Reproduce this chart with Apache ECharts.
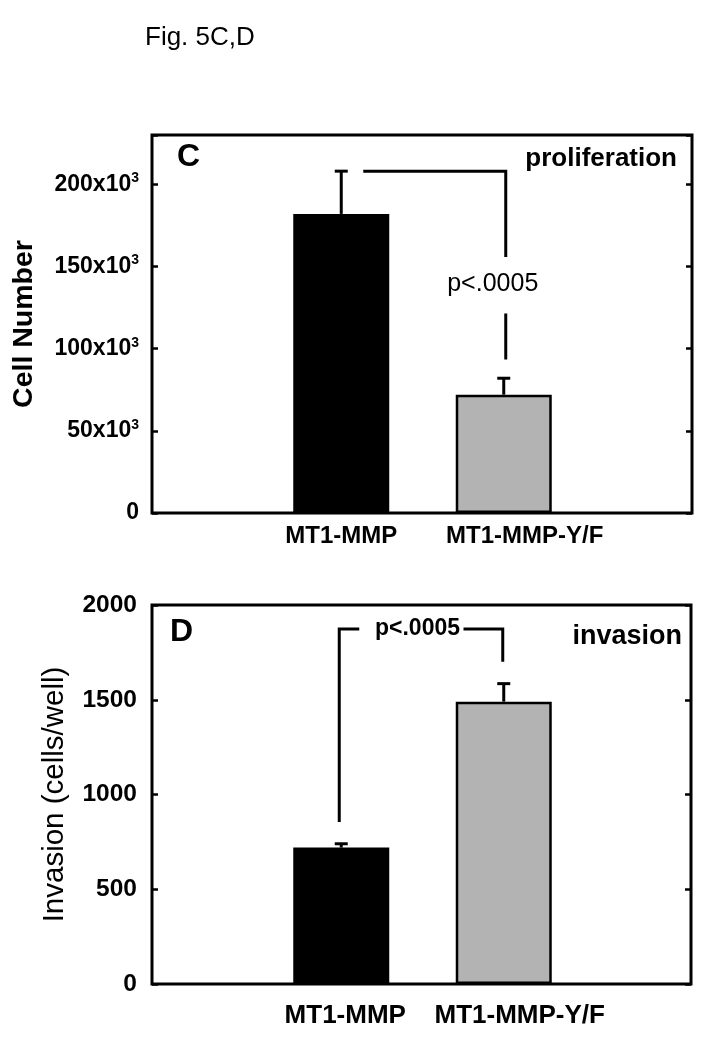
<!DOCTYPE html>
<html><head><meta charset="utf-8">
<script src="https://cdn.jsdelivr.net/npm/echarts@6/dist/echarts.min.js"></script>
<style>html,body{margin:0;padding:0;background:#fff}#c{width:719px;height:1050px}</style>
</head><body><div id="c"></div>
<script>
const categories = ['MT1-MMP', 'MT1-MMP-Y/F'];
const cellNumber = [182000, 72000];
const cellNumberErr = [26000, 10000];
const invasion = [720, 1490];
const invasionErr = [20, 95];
const cellTicks = [0, 50000, 100000, 150000, 200000];
const invasionTicks = [0, 500, 1000, 1500, 2000];
const barColors = ['#000000', '#b3b3b3'];
const pLabel = 'p<.0005';

const FONT = '"Liberation Sans", Arial, Helvetica, sans-serif';
const chart = echarts.init(document.getElementById('c'), null, {renderer: 'canvas'});

function errSeries(xi, yi, vals, errs) {
  return {
    type: 'custom', xAxisIndex: xi, yAxisIndex: yi, z: 5,
    data: vals.map((v, i) => [i, v, errs[i]]),
    renderItem(params, api) {
      const b = api.coord([api.value(0), api.value(1)]);
      const t = api.coord([api.value(0), api.value(1) + api.value(2)]);
      return {type: 'group', children: [
        {type: 'line', shape: {x1: b[0], y1: b[1], x2: t[0], y2: t[1]}, style: {stroke: '#000', lineWidth: 3}},
        {type: 'line', shape: {x1: t[0] - 6.5, y1: t[1], x2: t[0] + 6.5, y2: t[1]}, style: {stroke: '#000', lineWidth: 3}}
      ]};
    }
  };
}
function barSeries(xi, yi, vals) {
  return {
    type: 'bar', xAxisIndex: xi, yAxisIndex: yi, barWidth: 96,
    data: vals.map((v, i) => ({value: v, itemStyle: {color: barColors[i], borderColor: '#000', borderWidth: 2.5}}))
  };
}
const tickStyle = {show: true, inside: true, length: 6, lineStyle: {color: '#000', width: 2.5}};
function catLabel(size, margin, padL0, padL1) {
  return {color: '#000', margin: margin, interval: 0,
    formatter: (v, i) => '{p' + i + '|}{t|' + v + '}',
    rich: {t: {fontFamily: FONT, fontWeight: 'bold', fontSize: size, color: '#000'},
           p0: {width: padL0}, p1: {width: padL1}}};
}

const option = {
  animation: false,
  backgroundColor: '#fff',
  textStyle: {fontFamily: FONT},
  grid: [
    {left: 152, top: 135, width: 540, height: 378, show: true, borderColor: '#000', borderWidth: 3, backgroundColor: 'transparent'},
    {left: 260, top: 135, width: 325, height: 378},
    {left: 152, top: 605, width: 539, height: 379, show: true, borderColor: '#000', borderWidth: 3, backgroundColor: 'transparent'},
    {left: 260, top: 605, width: 325, height: 379}
  ],
  xAxis: [
    {gridIndex: 0, type: 'value', min: 0, max: 1, show: false},
    {gridIndex: 1, type: 'category', data: categories, axisLine: {show: false}, axisTick: {show: false}, axisLabel: catLabel(24, 11, 0, 42)},
    {gridIndex: 2, type: 'value', min: 0, max: 1, show: false},
    {gridIndex: 3, type: 'category', data: categories, axisLine: {show: false}, axisTick: {show: false}, axisLabel: catLabel(26, 19, 8, 32)}
  ],
  yAxis: [
    {gridIndex: 0, type: 'value', position: 'left', min: 0, max: 230000, interval: 50000,
     axisLine: {show: false}, axisTick: tickStyle, splitLine: {show: false},
     axisLabel: {margin: 13, color: '#000',
       formatter: v => v === 0 ? '{a|0}' : (cellTicks.includes(v) ? '{a|' + (v / 1000) + 'x10}{s|3}' : ''),
       rich: {a: {fontFamily: FONT, fontWeight: 'bold', fontSize: 23, lineHeight: 26, color: '#000'},
              s: {fontFamily: FONT, fontWeight: 'bold', fontSize: 14, lineHeight: 26, verticalAlign: 'top', color: '#000'}}},
     name: 'Cell Number', nameLocation: 'middle', nameGap: 113,
     nameTextStyle: {color: '#000', fontFamily: FONT, fontWeight: 'bold', fontSize: 28.5}},
    {gridIndex: 0, type: 'value', position: 'right', min: 0, max: 230000, interval: 50000,
     axisLine: {show: false}, axisTick: tickStyle, splitLine: {show: false}, axisLabel: {show: false}},
    {gridIndex: 1, type: 'value', min: 0, max: 230000, show: false},
    {gridIndex: 2, type: 'value', position: 'left', min: 0, max: 2000, interval: 500,
     axisLine: {show: false}, axisTick: tickStyle, splitLine: {show: false},
     axisLabel: {margin: 15, color: '#000', fontFamily: FONT, fontWeight: 'bold', fontSize: 24.5,
       formatter: v => invasionTicks.includes(v) ? String(v) : ''},
     name: 'Invasion (cells/well)', nameLocation: 'middle', nameGap: 82,
     nameTextStyle: {color: '#000', fontFamily: FONT, fontWeight: 'normal', fontSize: 29.5}},
    {gridIndex: 2, type: 'value', position: 'right', min: 0, max: 2000, interval: 500,
     axisLine: {show: false}, axisTick: tickStyle, splitLine: {show: false}, axisLabel: {show: false}},
    {gridIndex: 3, type: 'value', min: 0, max: 2000, show: false}
  ],
  series: [
    barSeries(1, 2, cellNumber),
    errSeries(1, 2, cellNumber, cellNumberErr),
    barSeries(3, 5, invasion),
    errSeries(3, 5, invasion, invasionErr)
  ]
};
chart.setOption(option);

// annotations in data coordinates
const pc = (cat, v) => chart.convertToPixel({xAxisIndex: 1, yAxisIndex: 2}, [cat, v]);
const pd = (cat, v) => chart.convertToPixel({xAxisIndex: 3, yAxisIndex: 5}, [cat, v]);
const ln = pts => ({type: 'polyline', shape: {points: pts}, style: {stroke: '#000', lineWidth: 3, fill: null}, z: 10});
const tx = (x, y, text, size, weight, align) => ({type: 'text', x: x, y: y, z: 10,
  style: {text: text, fill: '#000', font: weight + ' ' + size + 'px ' + FONT, textAlign: align, textVerticalAlign: 'middle'}});

const cTop = pc(0, cellNumber[0] + cellNumberErr[0]);
const c2a = pc(1, cellNumber[0] + cellNumberErr[0]);
const c2b = pc(1, 155700);
const c2c = pc(1, 121400);
const c2d = pc(1, 93400);
const cText = pc(1, 139500);

const d1a = pd(0, 855);
const d1b = pd(0, 1874);
const d2a = pd(1, 1874);
const d2b = pd(1, 1701);
const dMid = (d1b[0] + d2a[0]) / 2;

chart.setOption({graphic: [
  tx(145, 38, 'Fig. 5C,D', 26, 'normal', 'left'),
  // panel C
  tx(177, 157, 'C', 32, 'bold', 'left'),
  tx(677, 159, 'proliferation', 26, 'bold', 'right'),
  ln([[cTop[0] + 22, cTop[1]], [c2a[0] + 2, c2a[1]], [c2b[0] + 2, c2b[1]]]),
  tx(cText[0] - 11, cText[1], pLabel, 25, 'normal', 'center'),
  ln([[c2c[0] + 2, c2c[1]], [c2d[0] + 2, c2d[1]]]),
  // panel D
  tx(170, 632, 'D', 32, 'bold', 'left'),
  tx(682, 637, 'invasion', 27, 'bold', 'right'),
  ln([[d1a[0] - 2, d1a[1]], [d1b[0] - 2, d1b[1]], [d1b[0] + 18, d1b[1]]]),
  tx(dMid - 5, d1b[1], pLabel, 23, 'bold', 'center'),
  ln([[dMid + 41, d2a[1]], [d2a[0] - 1, d2a[1]], [d2b[0] - 1, d2b[1]]])
]});
</script></body></html>
